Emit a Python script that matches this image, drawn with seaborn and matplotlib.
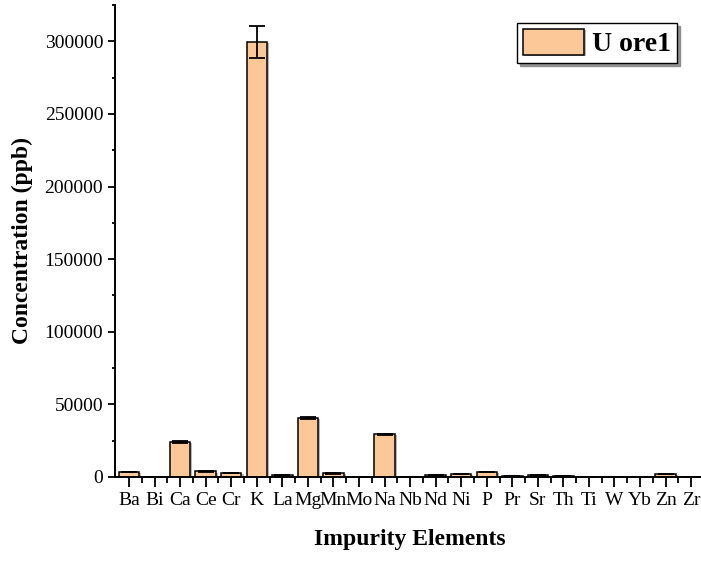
import matplotlib
matplotlib.use("Agg")
import matplotlib.pyplot as plt
import matplotlib.patheffects as pe
from matplotlib.ticker import MultipleLocator, FixedLocator
import seaborn as sns
import pandas as pd
import numpy as np

elements = ["Ba", "Bi", "Ca", "Ce", "Cr", "K", "La", "Mg", "Mn", "Mo", "Na", "Nb",
            "Nd", "Ni", "P", "Pr", "Sr", "Th", "Ti", "W", "Yb", "Zn", "Zr"]
conc = [3300, 0, 24000, 3700, 2700, 299500, 1200, 40500, 2400, 0, 29300, 0,
        1200, 2100, 3400, 250, 1200, 250, 150, 0, 0, 1900, 0]
err = [200, 0, 600, 200, 150, 11000, 100, 800, 150, 0, 500, 0,
       150, 150, 250, 0, 150, 0, 0, 0, 0, 200, 0]
series = "U ore1"

sns.set_theme(style="ticks")
plt.rcParams["font.family"] = ["Liberation Serif", "DejaVu Serif"]
plt.rcParams["text.color"] = "black"
plt.rcParams["axes.labelcolor"] = "black"
plt.rcParams["xtick.color"] = "black"
plt.rcParams["ytick.color"] = "black"

df = pd.DataFrame({"Element": elements, "Concentration": conc, "Series": series})

fig = plt.figure(figsize=(7.01, 5.61), dpi=100)
ax = fig.add_axes([0.164, 0.150, 0.842, 0.841])

sns.barplot(data=df, x="Element", y="Concentration", hue="Series",
            palette=["#FDC897"], saturation=1, width=0.8, errorbar=None, ax=ax,
            edgecolor="black", linewidth=1.1, dodge=False)

shadow = [pe.SimplePatchShadow(offset=(1.5, -0.8), shadow_rgbFace="#9a9a9a", alpha=0.7), pe.Normal()]
for p in ax.patches:
    p.set_path_effects(shadow)

xpos = np.arange(len(elements))
ax.errorbar(xpos, conc, yerr=err, fmt="none", ecolor="black", elinewidth=1.3,
            capsize=6, capthick=1.3, zorder=5)

ax.set_xlim(-0.55, len(elements) - 0.45)
ax.set_ylim(0, 325000)
ax.yaxis.set_major_locator(MultipleLocator(50000))
ax.yaxis.set_minor_locator(MultipleLocator(25000))
ax.xaxis.set_minor_locator(FixedLocator(xpos[:-1] + 0.5))

ax.set_xlabel("Impurity Elements", fontsize=17, fontweight="bold", labelpad=14, color="black")
ax.set_ylabel("Concentration (ppb)", fontsize=17, fontweight="bold", labelpad=8, color="black")

for s in ["top", "right"]:
    ax.spines[s].set_visible(False)
for s in ["left", "bottom"]:
    ax.spines[s].set_linewidth(1.4)
    ax.spines[s].set_color("black")

ax.tick_params(axis="both", which="both", direction="out", colors="black",
               labelcolor="black", labelsize=14, width=1.3)
ax.tick_params(axis="x", which="major", length=7, pad=4)
ax.tick_params(axis="x", which="minor", length=4)
ax.tick_params(axis="y", which="major", length=5)
ax.tick_params(axis="y", which="minor", length=2.5)

leg = ax.legend(loc="upper right", bbox_to_anchor=(677 / 701, 1 - 23 / 561),
                bbox_transform=fig.transFigure, frameon=True, fancybox=False,
                shadow={"color": "#888888", "alpha": 0.9},
                prop={"weight": "bold", "size": 20}, handlelength=2.2,
                handleheight=1.1, borderpad=0.2, handletextpad=0.3,
                borderaxespad=0, labelcolor="black")
leg.get_frame().set_edgecolor("black")
leg.get_frame().set_linewidth(1.0)
leg.get_frame().set_facecolor("white")

fig.savefig("out.png", dpi=100)
